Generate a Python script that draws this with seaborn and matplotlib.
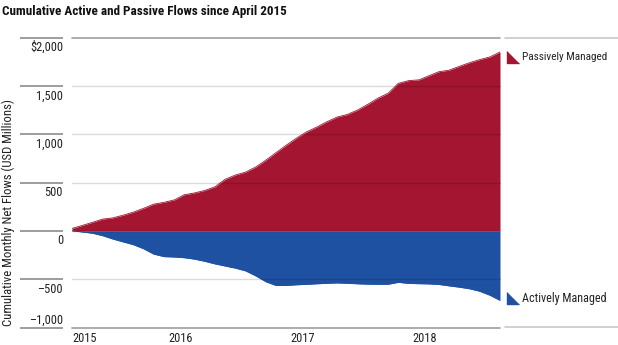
import numpy as np
import pandas as pd
import matplotlib
matplotlib.use("Agg")
import matplotlib.pyplot as plt
import matplotlib.transforms as mtrans
from matplotlib.lines import Line2D
from matplotlib import font_manager
import seaborn as sns

# ---------------- data ----------------
months = pd.date_range("2015-04-01", "2018-10-01", freq="MS")
passive = [25, 55, 88, 121, 134, 162, 193, 233, 276, 295, 320, 373, 392, 417, 455,
           532, 577, 608, 660, 733, 810, 888, 962, 1022, 1073, 1127, 1177, 1203, 1249,
           1309, 1372, 1424, 1526, 1554, 1562, 1602, 1646, 1661, 1701, 1738, 1771, 1799, 1850]
active = [0, -12, -25, -50, -85, -115, -143, -186, -241, -267, -271, -278, -293, -315, -342,
          -364, -386, -415, -466, -528, -566, -565, -558, -554, -548, -543, -539, -543, -548,
          -552, -553, -553, -533, -544, -547, -549, -555, -569, -583, -599, -625, -667, -720]
series_names = ["Passively Managed", "Actively Managed"]
colors = ["#A31530", "#1F51A2"]
ytick_values = [2000, 1500, 1000, 500, 0, -500, -1000]
ytick_labels = ["$2,000", "1,500", "1,000", "500", "0", "\u2013500", "\u20131,000"]
year_ticks = pd.to_datetime(["2015-04-01", "2016-01-01", "2017-01-01", "2018-01-01"])
year_labels = ["2015", "2016", "2017", "2018"]
title = "Cumulative Active and Passive Flows since April 2015"
ylabel = "Cumulative Monthly Net Flows (USD Millions)"

# ---------------- style ----------------
sns.set_theme(style="white")
fonts = font_manager.fontManager.ttflist
names = {f.name for f in fonts}
stretch = "normal"
family = None
for cand in ["Roboto Condensed", "Liberation Sans Narrow", "Arial Narrow",
             "Nimbus Sans Narrow", "Open Sans Condensed", "Noto Sans Display"]:
    if cand in names:
        family = cand
        break
if family is None:
    dv_cond = [f for f in fonts if f.name == "DejaVu Sans" and
               str(f.stretch).lower() in ("condensed", "semi-condensed", "500", "300")]
    if dv_cond:
        family, stretch = "DejaVu Sans", "condensed"
    else:
        family = "Roboto" if "Roboto" in names else "Liberation Sans"
plt.rcParams["font.family"] = [family, "DejaVu Sans"]
plt.rcParams["font.stretch"] = stretch
TXT = "#222222"

W, H = 618, 345
fig = plt.figure(figsize=(W / 100, H / 100), dpi=100)
renderer = fig.canvas.get_renderer()


def fit(t, target_w, horizontal=True):
    """scale a text's font size so its rendered extent matches the reference width"""
    for _ in range(3):
        bb = t.get_window_extent(renderer)
        w = bb.width if horizontal else bb.height
        if w > 0:
            t.set_fontsize(t.get_fontsize() * target_w / w)
    return t.get_fontsize()


ax = fig.add_axes([72 / W, 1 - 327.5 / H, (500 - 72) / W, (327.5 - 37.5) / H])

df = pd.DataFrame({"date": months, series_names[0]: passive, series_names[1]: active})
long = df.melt(id_vars="date", var_name="flow", value_name="value")
sns.lineplot(data=long, x="date", y="value", hue="flow",
             palette=dict(zip(series_names, colors)), linewidth=0.6,
             legend=False, ax=ax, zorder=2)
ax.fill_between(df["date"], 0, df[series_names[0]], color=colors[0], lw=0, zorder=1)
ax.fill_between(df["date"], 0, df[series_names[1]], color=colors[1], lw=0, zorder=1)

ax.set_xlim(months[0], months[-1])
ax.set_ylim(-1000, 2000)
for s in ax.spines.values():
    s.set_visible(False)
ax.set_xticks([])
ax.set_yticks([])
ax.set_xlabel("")
ax.set_ylabel("")

# gridlines over the areas
for v in ytick_values:
    edge = v in (2000, -1000)
    ax.axhline(v, color="black", alpha=0.38 if edge else 0.14, lw=1.2 if edge else 1.0,
               zorder=5, clip_on=False)

# size for tick labels from "$2,000" width (~33 px in reference)
probe = fig.text(0, 0, ytick_labels[0], fontsize=10)
tick_fs = min(fit(probe, 33), 11)
probe.remove()

# y tick label area lines + labels
ytrans = mtrans.blended_transform_factory(fig.transFigure, ax.transData)
for v, lab in zip(ytick_values, ytick_labels):
    ax.plot([20 / W, 63 / W], [v, v], transform=ytrans, color="#8c8c8c", lw=1.2,
            clip_on=False, solid_capstyle="butt")
    dy = 7 if v == -1000 else -10
    ax.text(63 / W, v, lab, transform=mtrans.offset_copy(ytrans, fig=fig, y=dy, units="dots"),
            ha="right", va="center", fontsize=tick_fs, color=TXT)

# x labels (left aligned at tick positions)
xtrans = mtrans.blended_transform_factory(ax.transData, fig.transFigure)
for i, (d, lab) in enumerate(zip(year_ticks, year_labels)):
    dx = 0 if i == 0 else 4
    ax.text(d, 1 - 338 / H, lab, transform=mtrans.offset_copy(xtrans, fig=fig, x=dx, units="dots"),
            ha="left", va="center", fontsize=tick_fs, color=TXT)

# legend-area lines
fig.add_artist(Line2D([505 / W, 1], [1 - 37.5 / H] * 2, color="#c8c8c8", lw=1.2))
fig.add_artist(Line2D([505 / W, 1], [1 - 327 / H] * 2, color="#c8c8c8", lw=1.2))

# end labels with triangle markers
tri = [(-1, 1), (-1, -1), (1, -1)]
for name, col, vals, dy, tw in [(series_names[0], colors[0], passive, -5, 86),
                                (series_names[1], colors[1], active, 2, 85)]:
    t = mtrans.offset_copy(ytrans, fig=fig, y=dy, units="dots")
    ax.plot([513 / W], [vals[-1]], marker=tri, ms=8, color=col, transform=t,
            clip_on=False, linestyle="none")
    lt = ax.text(522 / W, vals[-1], name, transform=t, ha="left", va="center",
                 fontsize=10, color=TXT)
    fit(lt, tw)

tt = fig.text(2 / W, 1 - 11 / H, title, ha="left", va="center", fontsize=11,
              fontweight="bold", color="#111111")
fit(tt, 286)
yl = fig.text(8 / W, 1 - 213 / H, ylabel, rotation=90, ha="center", va="center",
              fontsize=10, color=TXT)
fit(yl, 228, horizontal=False)

fig.savefig("out.png", dpi=100)
